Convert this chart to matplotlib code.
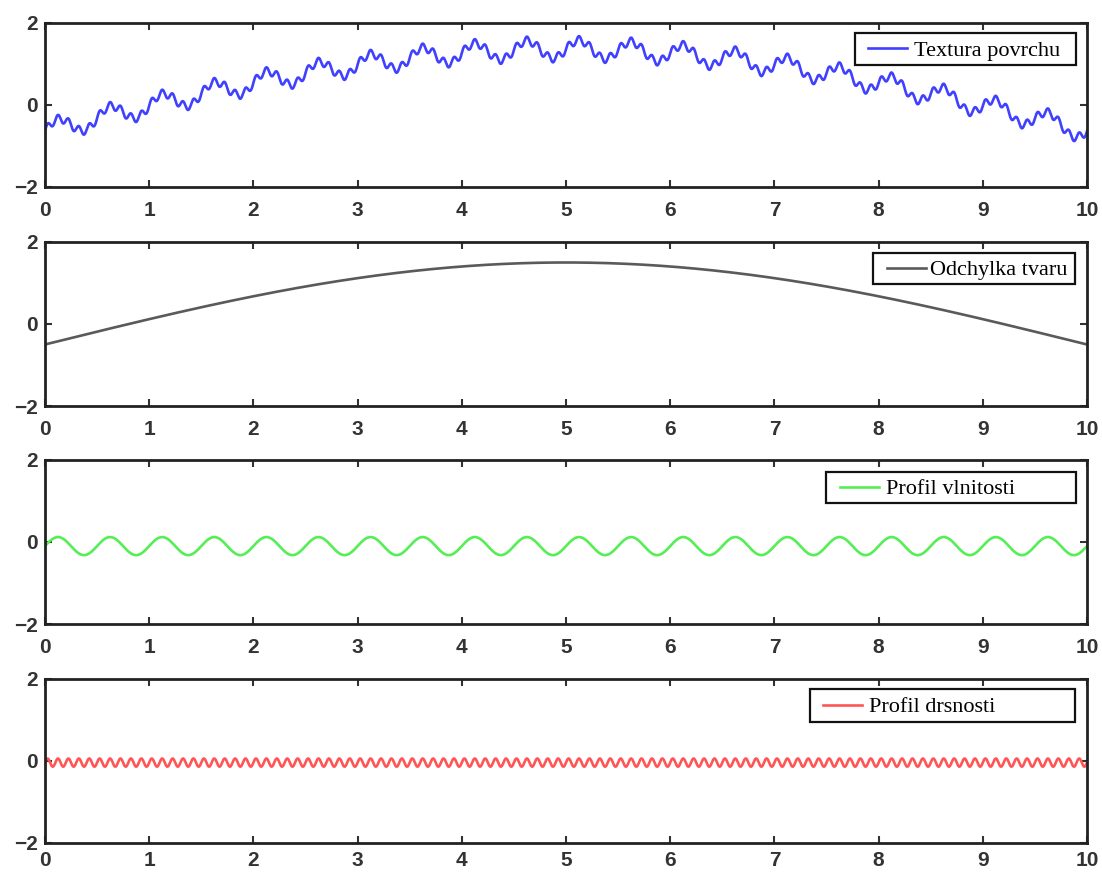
import numpy as np
import matplotlib.pyplot as plt
from matplotlib.patches import Rectangle

# profile components (amplitudes / periods in mm)
x_range = (0, 10)
n_samples = 4001

form_base = -0.5       # form deviation at both ends
form_rise = 2.0        # rise of the arch at mid-length
wave_offset = -0.10
wave_amp = 0.22
wave_period = 0.5
rough_offset = -0.04
rough_amp = 0.10
rough_period = 0.1

labels = ["Textura povrchu", "Odchylka tvaru", "Profil vlnitosti", "Profil drsnosti"]
colors = ["#4040ff", "#5a5a5a", "#55ee55", "#ff5555"]
xticks = list(range(0, 11))
yticks = [-2, 0, 2]

x = np.linspace(x_range[0], x_range[1], n_samples)
form = form_base + form_rise * np.sin(np.pi * x / x_range[1])
wave = wave_offset + wave_amp * np.sin(2 * np.pi * x / wave_period)
rough = rough_offset + rough_amp * np.sin(2 * np.pi * x / rough_period)
texture = form + wave + rough
series = [texture, form, wave, rough]

fig = plt.figure(figsize=(11.02, 8.72), dpi=100)

bottoms = [0.7856, 0.5344, 0.2844, 0.0333]
xpads = [10, 10, 10, 6]
# legend frames (x0, y0, x1, y1) and start of the legend entry, axes fractions
boxes = [(0.7774, 0.744, 0.9894, 0.939),
         (0.7946, 0.744, 0.9885, 0.933),
         (0.7495, 0.738, 0.9894, 0.927),
         (0.7342, 0.738, 0.9885, 0.939)]
entry_x = [0.7898, 0.8081, 0.7630, 0.7466]
handle_gap = [0.3, 0.2, 0.3, 0.3]

for i, (y, lab, col) in enumerate(zip(series, labels, colors)):
    ax = fig.add_axes([0.0408, bottoms[i], 0.9456, 0.1881])
    ax.plot(x, y, color=col, lw=1.9, label=lab)
    ax.set_xlim(*x_range)
    ax.set_ylim(-2, 2)
    ax.set_xticks(xticks)
    ax.set_yticks(yticks)
    ax.tick_params(direction="in", top=True, right=True, length=5, width=1.5,
                   labelsize=15, colors="#333333", labelcolor="#333333")
    ax.tick_params(axis="x", pad=xpads[i])
    ax.tick_params(axis="y", pad=5)
    for t in ax.get_xticklabels() + ax.get_yticklabels():
        t.set_fontweight("bold")
        t.set_family("Liberation Sans")
    for s in ax.spines.values():
        s.set_linewidth(2)
        s.set_color("#222222")

    x0, y0, x1, y1 = boxes[i]
    ax.add_patch(Rectangle((x0, y0), x1 - x0, y1 - y0, transform=ax.transAxes,
                           facecolor="white", edgecolor="#111111", lw=1.6,
                           zorder=5))
    leg = ax.legend(loc="center left",
                    bbox_to_anchor=(entry_x[i], (y0 + y1) / 2 - 0.01),
                    frameon=False, borderpad=0, borderaxespad=0,
                    prop={"family": "Liberation Serif", "size": 16},
                    handlelength=1.75, handletextpad=handle_gap[i])
    leg.set_zorder(6)

fig.savefig("out.png", dpi=100)
